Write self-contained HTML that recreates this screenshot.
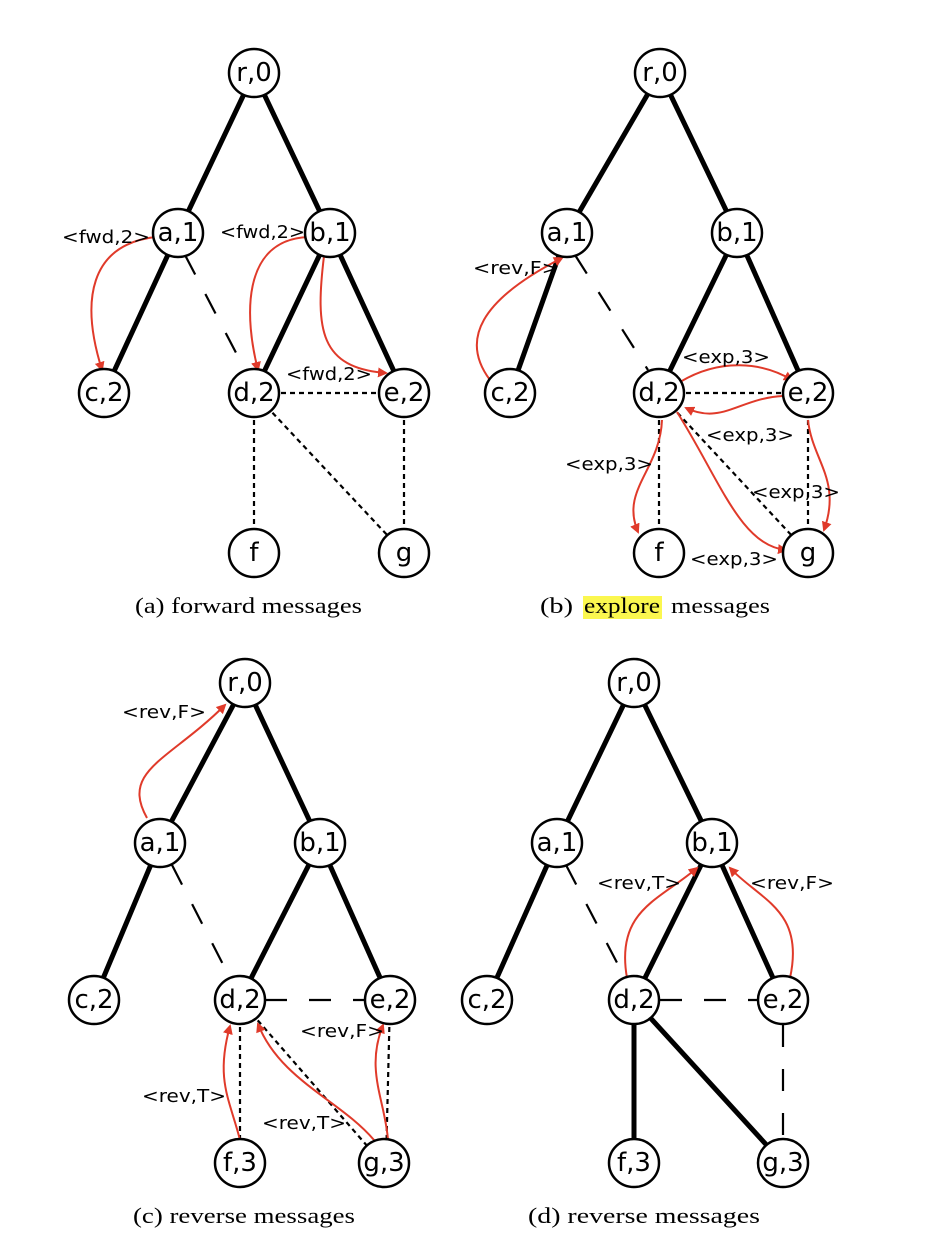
<!DOCTYPE html>
<html><head><meta charset="utf-8"><style>
html,body{margin:0;padding:0;background:#fff}
svg{display:block}
.n ellipse{fill:#fff;stroke:#000;stroke-width:2.5}
.n text{font-family:"DejaVu Sans",sans-serif;font-size:26px;text-anchor:middle;dominant-baseline:central}
.t{stroke:#000;stroke-width:5}
.ld{stroke:#000;stroke-width:2.2;stroke-dasharray:22 22}
.dt{stroke:#000;stroke-width:2.2;stroke-dasharray:5 4}
.r{fill:none;stroke:#e03a2a;stroke-width:2;marker-end:url(#ah)}
.lb{font-family:"DejaVu Sans",sans-serif;font-size:18px}
.cap{font-family:"Liberation Serif",serif;font-size:22px}
</style></head><body>
<svg width="926" height="1252" viewBox="0 0 926 1252" xmlns="http://www.w3.org/2000/svg">
<defs><marker id="ah" markerWidth="10" markerHeight="10" refX="8" refY="5" orient="auto" markerUnits="userSpaceOnUse"><path d="M0,0 L10,5 L0,10 Z" fill="#e03a2a"/></marker></defs>

<!-- Panel a -->
<line class="t" x1="254" y1="73" x2="178" y2="233"/><line class="t" x1="254" y1="73" x2="330" y2="233"/>
<line class="t" x1="178" y1="233" x2="104" y2="393"/><line class="t" x1="330" y1="233" x2="254" y2="393"/><line class="t" x1="330" y1="233" x2="404" y2="393"/>
<line class="ld" x1="185" y1="255" x2="245" y2="370"/>
<line class="dt" x1="254" y1="393" x2="404" y2="393"/><line class="dt" x1="254" y1="393" x2="254" y2="553"/><line class="dt" x1="254" y1="393" x2="404" y2="553"/><line class="dt" x1="404" y1="393" x2="404" y2="553"/>
<path class="r" d="M155,237 C90,245 80,300 102,370"/>
<path class="r" d="M308,237 C240,240 245,320 258,370"/>
<path class="r" d="M324,256 C315,330 320,368 386,373"/>
<text class="lb" x="62" y="243" textLength="88" lengthAdjust="spacingAndGlyphs">&lt;fwd,2&gt;</text>
<text class="lb" x="220" y="238" textLength="85" lengthAdjust="spacingAndGlyphs">&lt;fwd,2&gt;</text>
<text class="lb" x="286" y="380" textLength="86" lengthAdjust="spacingAndGlyphs">&lt;fwd,2&gt;</text>
<g class="n"><ellipse cx="254" cy="73" rx="25" ry="24"/><text x="254" y="73">r,0</text>
<ellipse cx="178" cy="233" rx="25" ry="24"/><text x="178" y="233">a,1</text>
<ellipse cx="330" cy="233" rx="25" ry="24"/><text x="330" y="233">b,1</text>
<ellipse cx="104" cy="393" rx="25" ry="24"/><text x="104" y="393">c,2</text>
<ellipse cx="254" cy="393" rx="25" ry="24"/><text x="254" y="393">d,2</text>
<ellipse cx="404" cy="393" rx="25" ry="24"/><text x="404" y="393">e,2</text>
<ellipse cx="254" cy="553" rx="25" ry="24"/><text x="254" y="553">f</text>
<ellipse cx="404" cy="553" rx="25" ry="24"/><text x="404" y="553">g</text></g>
<text class="cap" x="135" y="613" textLength="227" lengthAdjust="spacingAndGlyphs">(a) forward messages</text>

<!-- Panel b -->
<line class="t" x1="660" y1="73" x2="567" y2="233"/><line class="t" x1="660" y1="73" x2="737" y2="233"/>
<line class="t" x1="567" y1="233" x2="510" y2="393"/><line class="t" x1="737" y1="233" x2="659" y2="393"/><line class="t" x1="737" y1="233" x2="808" y2="393"/>
<line class="ld" x1="575" y1="255" x2="648" y2="370"/>
<line class="dt" x1="659" y1="393" x2="808" y2="393"/><line class="dt" x1="659" y1="393" x2="659" y2="553"/><line class="dt" x1="659" y1="393" x2="808" y2="553"/><line class="dt" x1="808" y1="393" x2="808" y2="553"/>
<path class="r" d="M490,380 C460,340 480,300 562,258"/>
<path class="r" d="M680,382 C720,358 762,362 792,380"/>
<path class="r" d="M783,396 C740,398 722,425 686,408"/>
<path class="r" d="M662,420 C660,470 620,490 638,532"/>
<path class="r" d="M677,412 C720,480 740,545 786,550"/>
<path class="r" d="M808,420 C812,460 842,480 824,530"/>
<text class="lb" x="473" y="274" textLength="86" lengthAdjust="spacingAndGlyphs">&lt;rev,F&gt;</text>
<text class="lb" x="682" y="363" textLength="88" lengthAdjust="spacingAndGlyphs">&lt;exp,3&gt;</text>
<text class="lb" x="706" y="441" textLength="88" lengthAdjust="spacingAndGlyphs">&lt;exp,3&gt;</text>
<text class="lb" x="565" y="470" textLength="88" lengthAdjust="spacingAndGlyphs">&lt;exp,3&gt;</text>
<text class="lb" x="752" y="498" textLength="88" lengthAdjust="spacingAndGlyphs">&lt;exp,3&gt;</text>
<text class="lb" x="690" y="565" textLength="88" lengthAdjust="spacingAndGlyphs">&lt;exp,3&gt;</text>
<g class="n"><ellipse cx="660" cy="73" rx="25" ry="24"/><text x="660" y="73">r,0</text>
<ellipse cx="567" cy="233" rx="25" ry="24"/><text x="567" y="233">a,1</text>
<ellipse cx="737" cy="233" rx="25" ry="24"/><text x="737" y="233">b,1</text>
<ellipse cx="510" cy="393" rx="25" ry="24"/><text x="510" y="393">c,2</text>
<ellipse cx="659" cy="393" rx="25" ry="24"/><text x="659" y="393">d,2</text>
<ellipse cx="808" cy="393" rx="25" ry="24"/><text x="808" y="393">e,2</text>
<ellipse cx="659" cy="553" rx="25" ry="24"/><text x="659" y="553">f</text>
<ellipse cx="808" cy="553" rx="25" ry="24"/><text x="808" y="553">g</text></g>
<rect x="583" y="596" width="79" height="23" fill="#fbf74f"/>
<text class="cap" x="540" y="613" textLength="33" lengthAdjust="spacingAndGlyphs">(b)</text>
<text class="cap" x="584" y="613" textLength="76" lengthAdjust="spacingAndGlyphs">explore</text>
<text class="cap" x="671" y="613" textLength="99" lengthAdjust="spacingAndGlyphs">messages</text>

<!-- Panel c -->
<line class="t" x1="245" y1="683" x2="160" y2="843"/><line class="t" x1="245" y1="683" x2="320" y2="843"/>
<line class="t" x1="160" y1="843" x2="94" y2="1000"/><line class="t" x1="320" y1="843" x2="240" y2="1000"/><line class="t" x1="320" y1="843" x2="390" y2="1000"/>
<line class="ld" x1="172" y1="865" x2="230" y2="978"/>
<line class="ld" x1="265" y1="1000" x2="365" y2="1000"/>
<line class="dt" x1="240" y1="1000" x2="240" y2="1163"/><line class="dt" x1="240" y1="1000" x2="382" y2="1163"/><line class="dt" x1="390" y1="1000" x2="386" y2="1163"/>
<path class="r" d="M147,818 C120,770 170,760 225,705"/>
<path class="r" d="M240,1140 C230,1100 215,1080 230,1026"/>
<path class="r" d="M374,1140 C340,1100 280,1080 258,1024"/>
<path class="r" d="M388,1140 C385,1100 365,1070 383,1025"/>
<text class="lb" x="122" y="718" textLength="84" lengthAdjust="spacingAndGlyphs">&lt;rev,F&gt;</text>
<text class="lb" x="300" y="1037" textLength="84" lengthAdjust="spacingAndGlyphs">&lt;rev,F&gt;</text>
<text class="lb" x="142" y="1102" textLength="84" lengthAdjust="spacingAndGlyphs">&lt;rev,T&gt;</text>
<text class="lb" x="262" y="1129" textLength="84" lengthAdjust="spacingAndGlyphs">&lt;rev,T&gt;</text>
<g class="n"><ellipse cx="245" cy="683" rx="25" ry="24"/><text x="245" y="683">r,0</text>
<ellipse cx="160" cy="843" rx="25" ry="24"/><text x="160" y="843">a,1</text>
<ellipse cx="320" cy="843" rx="25" ry="24"/><text x="320" y="843">b,1</text>
<ellipse cx="94" cy="1000" rx="25" ry="24"/><text x="94" y="1000">c,2</text>
<ellipse cx="240" cy="1000" rx="25" ry="24"/><text x="240" y="1000">d,2</text>
<ellipse cx="390" cy="1000" rx="25" ry="24"/><text x="390" y="1000">e,2</text>
<ellipse cx="240" cy="1163" rx="25" ry="24"/><text x="240" y="1163">f,3</text>
<ellipse cx="384" cy="1163" rx="25" ry="24"/><text x="384" y="1163">g,3</text></g>
<text class="cap" x="133" y="1223" textLength="222" lengthAdjust="spacingAndGlyphs">(c) reverse messages</text>

<!-- Panel d -->
<line class="t" x1="634" y1="683" x2="557" y2="843"/><line class="t" x1="634" y1="683" x2="712" y2="843"/>
<line class="t" x1="557" y1="843" x2="487" y2="1000"/><line class="t" x1="712" y1="843" x2="634" y2="1000"/><line class="t" x1="712" y1="843" x2="783" y2="1000"/>
<line class="t" x1="634" y1="1000" x2="634" y2="1163"/><line class="t" x1="634" y1="1000" x2="783" y2="1163"/>
<line class="ld" x1="566" y1="865" x2="625" y2="978"/>
<line class="ld" x1="660" y1="1000" x2="760" y2="1000"/>
<line class="ld" x1="783" y1="1025" x2="783" y2="1140"/>
<path class="r" d="M627,978 C615,910 660,900 697,868"/>
<path class="r" d="M790,978 C805,910 760,900 730,868"/>
<text class="lb" x="597" y="889" textLength="84" lengthAdjust="spacingAndGlyphs">&lt;rev,T&gt;</text>
<text class="lb" x="750" y="889" textLength="84" lengthAdjust="spacingAndGlyphs">&lt;rev,F&gt;</text>
<g class="n"><ellipse cx="634" cy="683" rx="25" ry="24"/><text x="634" y="683">r,0</text>
<ellipse cx="557" cy="843" rx="25" ry="24"/><text x="557" y="843">a,1</text>
<ellipse cx="712" cy="843" rx="25" ry="24"/><text x="712" y="843">b,1</text>
<ellipse cx="487" cy="1000" rx="25" ry="24"/><text x="487" y="1000">c,2</text>
<ellipse cx="634" cy="1000" rx="25" ry="24"/><text x="634" y="1000">d,2</text>
<ellipse cx="783" cy="1000" rx="25" ry="24"/><text x="783" y="1000">e,2</text>
<ellipse cx="634" cy="1163" rx="25" ry="24"/><text x="634" y="1163">f,3</text>
<ellipse cx="783" cy="1163" rx="25" ry="24"/><text x="783" y="1163">g,3</text></g>
<text class="cap" x="528" y="1223" textLength="232" lengthAdjust="spacingAndGlyphs">(d) reverse messages</text>
</svg>
</body></html>
